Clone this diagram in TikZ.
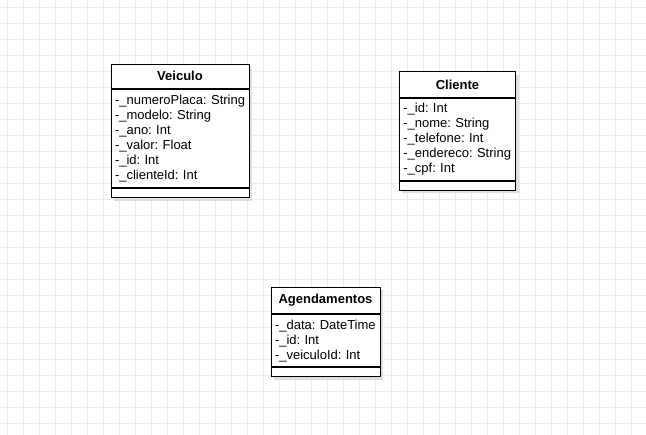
\documentclass[tikz,border=0pt]{standalone}
\usepackage{fontspec}
\setmainfont{Liberation Sans}
\usepackage{xcolor}
\usepackage{tikz}
\usetikzlibrary{positioning,shadows}
\definecolor{gridgray}{RGB}{236,236,236}
\definecolor{umlshadow}{RGB}{222,222,222}
\frenchspacing
\hfuzz=10pt
\tikzset{
  gridline/.style={draw=gridgray, line width=1pt},
  umlshade/.style={drop shadow={shadow xshift=3pt, shadow yshift=-3pt,
                   fill=umlshadow, opacity=1}},
  classhead/.style={draw, line width=1pt, fill=white, inner sep=0pt, umlshade,
                    font=\fontsize{13}{15}\selectfont\bfseries},
  classattr/.style={draw, line width=1pt, fill=white, inner xsep=4pt, inner ysep=0pt,
                    umlshade, align=left, text width=#1,
                    font=\fontsize{13}{15}\selectfont\frenchspacing},
  classops/.style={draw, line width=1pt, fill=white, inner sep=0pt, umlshade,
                   minimum height=9pt}
}

\begin{document}
\begin{tikzpicture}[x=1pt,y=-1pt]
    \useasboundingbox (0,0) rectangle (646,435);
    % grid
    \foreach \x in {7.5,23.5,...,647} \draw[gridline] (\x,0) -- (\x,435);
    \foreach \y in {7.5,23.5,...,436} \draw[gridline] (0,\y) -- (646,\y);

    % Veiculo
    \node[classhead, minimum width=138pt, minimum height=24pt] (veiculo) at (180,76.3) {Veiculo};
    \node[classattr=130pt, minimum height=98.4pt, below=0pt of veiculo] (veiculoattr)
      {\mbox{-\_numeroPlaca: String}\\-\_modelo: String\\-\_ano: Int\\-\_valor: Float\\-\_id: Int\\-\_clienteId: Int};
    \node[classops, minimum width=138pt, below=0pt of veiculoattr] (veiculoops) {};

    % Cliente
    \node[classhead, minimum width=116.3pt, minimum height=25.6pt] (cliente) at (457.5,84.5) {Cliente};
    \node[classattr=108.3pt, minimum height=82pt, below=0pt of cliente] (clienteattr)
      {-\_id: Int\\-\_nome: String\\-\_telefone: Int\\\mbox{-\_endereco: String}\\-\_cpf: Int};
    \node[classops, minimum width=116.3pt, below=0pt of clienteattr] (clienteops) {};

    % Agendamentos
    \node[classhead, minimum width=109pt, minimum height=26pt] (agenda) at (325.5,300.3) {Agendamentos};
    \node[classattr=101pt, minimum height=52.7pt, below=0pt of agenda] (agendaattr)
      {\mbox{-\_data: DateTime}\\-\_id: Int\\-\_veiculoId: Int};
    \node[classops, minimum width=109pt, below=0pt of agendaattr] (agendaops) {};
  \end{tikzpicture}
\end{document}
